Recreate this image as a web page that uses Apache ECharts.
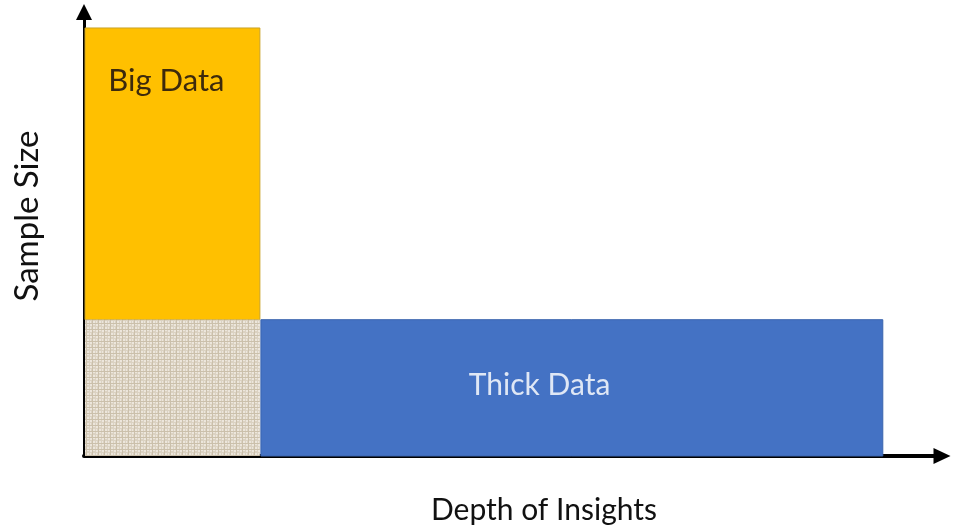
<!DOCTYPE html>
<html><head><meta charset="utf-8">
<script src="https://cdn.jsdelivr.net/npm/echarts@6/dist/echarts.min.js"></script>
<style>html,body{margin:0;padding:0;background:#fff}#c{width:955px;height:530px}</style>
</head><body><div id="c"></div>
<script>
// Data
const names = ['Big Data', 'Overlap', 'Thick Data'];
const xStart = [0, 0, 20.5];
const xEnd = [20.5, 20.5, 93.1];
const yStart = [30.7, 0, 0];
const yEnd = [96.4, 30.7, 30.7];
const labelX = [9.6, null, 53.1];
const labelY = [84.4, null, 16.0];
const xAxisTitle = 'Depth of Insights';
const yAxisTitle = 'Sample Size';

function makeTexture() {
  const c = document.createElement('canvas');
  c.width = 6; c.height = 6;
  const ctx = c.getContext('2d');
  ctx.fillStyle = '#dbd2c2'; ctx.fillRect(0, 0, 6, 6);
  ctx.fillStyle = '#ece6dc';
  ctx.fillRect(0, 0, 2, 2); ctx.fillRect(3, 3, 2, 2);
  ctx.fillRect(3, 0, 2, 1); ctx.fillRect(0, 3, 1, 2);
  ctx.fillStyle = '#cbc0ab';
  ctx.fillRect(2, 0, 1, 6); ctx.fillRect(0, 5, 6, 1);
  return c;
}
const texture = makeTexture();

const fills = ['#FFC000', {image: texture, repeat: 'repeat'}, '#4472C4'];
const strokes = ['#C9A227', null, '#3A64AE'];
const textColors = ['#3d2a0c', null, '#dfe7f5'];
const fontSizes = [31, null, 30];

const chart = echarts.init(document.getElementById('c'));
const data = names.map((n, i) => [xStart[i], xEnd[i], yStart[i], yEnd[i], i]);
chart.setOption({
  animation: false,
  grid: {left: 84, right: 13, top: 12, bottom: 69},
  xAxis: {
    type: 'value', min: 0, max: 100,
    name: xAxisTitle, nameLocation: 'middle', nameGap: 39,
    nameTextStyle: {fontFamily: 'Lato', fontSize: 30, color: '#111', padding: [0, 0, 0, 62]},
    axisLine: {show: true, onZero: false, symbol: ['none', 'triangle'], symbolSize: [16, 17],
      lineStyle: {color: '#000', width: 4}},
    axisTick: {show: false}, axisLabel: {show: false}, splitLine: {show: false}
  },
  yAxis: {
    type: 'value', min: 0, max: 100,
    name: yAxisTitle, nameLocation: 'middle', nameGap: 40,
    nameTextStyle: {fontFamily: 'Lato', fontSize: 33, color: '#111', padding: [0, 0, 0, 36]},
    axisLine: {show: true, onZero: false, symbol: ['none', 'triangle'], symbolSize: [16, 16],
      lineStyle: {color: '#000', width: 3}},
    axisTick: {show: false}, axisLabel: {show: false}, splitLine: {show: false}
  },
  series: [{
    type: 'custom',
    data: data,
    z: 1,
    renderItem: function (params, api) {
      const i = api.value(4);
      const p0 = api.coord([api.value(0), api.value(3)]);
      const p1 = api.coord([api.value(1), api.value(2)]);
      const children = [{
        type: 'rect',
        shape: {x: p0[0] + 1, y: p0[1], width: p1[0] - p0[0] - 1, height: p1[1] - p0[1]},
        style: {fill: fills[i], stroke: strokes[i], lineWidth: strokes[i] ? 1 : 0}
      }];
      if (labelX[i] != null) {
        const lp = api.coord([labelX[i], labelY[i]]);
        children.push({
          type: 'text', x: lp[0], y: lp[1],
          style: {text: names[i], fill: textColors[i], font: fontSizes[i] + 'px Lato', align: 'center', verticalAlign: 'middle'}
        });
      }
      return {type: 'group', children: children};
    }
  }]
});
</script></body></html>
